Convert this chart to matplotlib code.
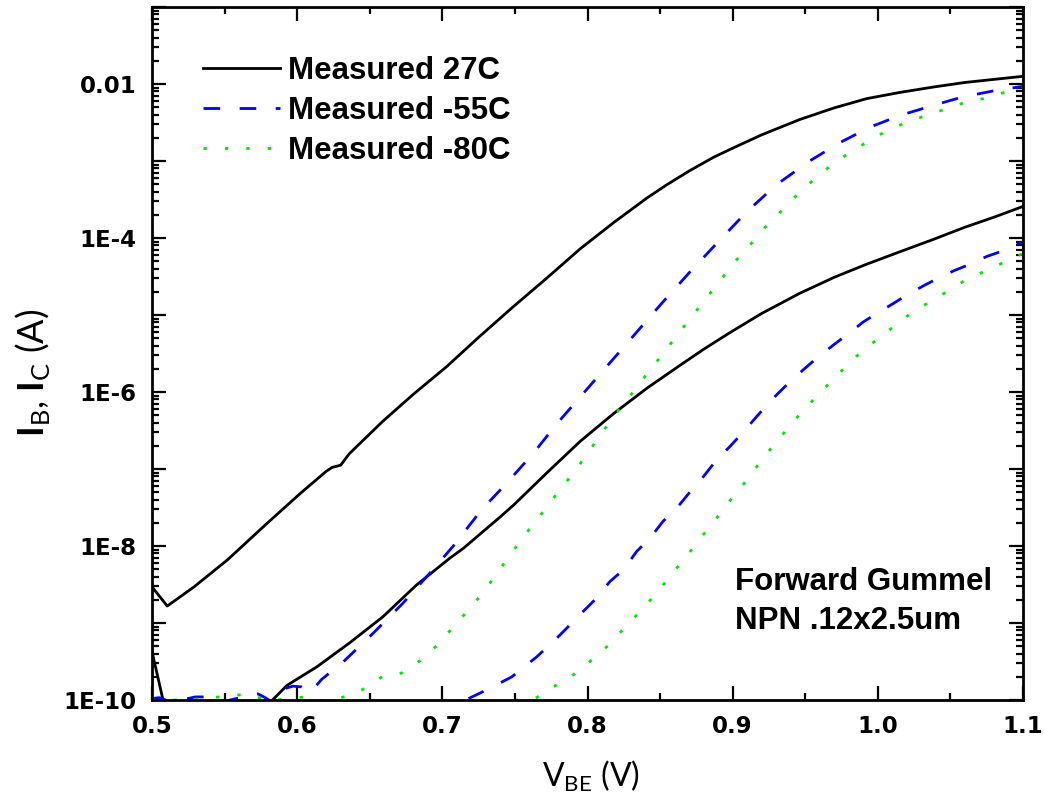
import numpy as np
import matplotlib
matplotlib.use("Agg")
import matplotlib.pyplot as plt
from matplotlib.ticker import FixedLocator, FixedFormatter, LogLocator, NullFormatter, MultipleLocator

plt.rcParams['mathtext.fontset'] = 'custom'
plt.rcParams['mathtext.rm'] = 'Lato'
plt.rcParams['mathtext.bf'] = 'Lato:bold'

# ---------------- data (log10 of current in A) ----------------
# Collector current, 27C
ic27_v = [0.500, 0.5105, 0.529, 0.552, 0.579, 0.602, 0.620, 0.624, 0.630, 0.636, 0.659, 0.680,
          0.703, 0.725, 0.749, 0.772, 0.795, 0.818, 0.841, 0.8545, 0.870, 0.887, 0.9004, 0.920,
          0.9464, 0.970, 0.9923, 1.015, 1.038, 1.060, 1.080, 1.100]
ic27_log = [-8.53, -8.78, -8.53, -8.18, -7.71, -7.32, -7.03, -6.98, -6.95, -6.80, -6.38, -6.03,
            -5.67, -5.29, -4.89, -4.52, -4.14, -3.80, -3.48, -3.31, -3.13, -2.95, -2.83, -2.66,
            -2.46, -2.31, -2.19, -2.11, -2.04, -1.98, -1.94, -1.90]
# Base current, 27C
ib27_v = [0.500, 0.5076, 0.515, 0.545, 0.575, 0.583, 0.593, 0.6135, 0.636, 0.659, 0.682, 0.705,
          0.7145, 0.740, 0.749, 0.772, 0.795, 0.818, 0.841, 0.864, 0.8804, 0.898, 0.920, 0.946,
          0.970, 0.9923, 1.015, 1.038, 1.060, 1.080, 1.100]
ib27_log = [-9.37, -10.0, -10.6, -11.0, -10.4, -10.0, -9.81, -9.57, -9.26, -8.92, -8.51, -8.16,
            -8.03, -7.62, -7.47, -7.05, -6.64, -6.28, -5.95, -5.65, -5.44, -5.23, -4.98, -4.72,
            -4.51, -4.34, -4.18, -4.02, -3.86, -3.73, -3.59]
# Collector current, -55C
ic55_v = [0.500, 0.505, 0.512, 0.520, 0.530, 0.540, 0.548, 0.556, 0.565, 0.573, 0.578, 0.582,
          0.590, 0.597, 0.603, 0.609, 0.617, 0.632, 0.6525, 0.673, 0.6915, 0.708, 0.727, 0.744,
          0.7625, 0.779, 0.797, 0.8155, 0.834, 0.852, 0.8706, 0.889, 0.9097, 0.930, 0.953,
          0.974, 0.9946, 1.015, 1.036, 1.058, 1.0795, 1.100]
ic55_log = [-9.98, -9.97, -10.02, -10.0, -9.96, -9.96, -10.03, -9.99, -9.95, -9.92, -9.97, -10.02,
            -9.86, -9.82, -9.83, -9.90, -9.73, -9.50, -9.13, -8.74, -8.35, -7.99, -7.53, -7.19,
            -6.80, -6.41, -6.02, -5.62, -5.22, -4.83, -4.44, -4.07, -3.66, -3.31, -3.00,
            -2.76, -2.56, -2.41, -2.29, -2.17, -2.09, -2.03]
# Base current, -55C
ib55_v = [0.700, 0.716, 0.726, 0.7386, 0.7478, 0.765, 0.7776, 0.7845, 0.797, 0.805, 0.8155, 0.8247,
          0.8339, 0.843, 0.852, 0.8614, 0.8718, 0.8798, 0.889, 0.898, 0.9073, 0.9165, 0.9269,
          0.936, 0.9487, 0.9579, 0.9694, 0.9785, 0.990, 0.9992, 1.0107, 1.020, 1.0325, 1.0417,
          1.053, 1.0623, 1.075, 1.0841, 1.100]
ib55_log = [-10.3, -10.0, -9.91, -9.79, -9.70, -9.44, -9.22, -9.09, -8.85, -8.70, -8.46, -8.31,
            -8.07, -7.90, -7.68, -7.51, -7.27, -7.10, -6.88, -6.71, -6.52, -6.32, -6.10,
            -5.93, -5.71, -5.56, -5.39, -5.26, -5.09, -4.98, -4.85, -4.74, -4.61, -4.52,
            -4.42, -4.35, -4.24, -4.18, -4.05]
# Collector current, -80C
ic80_v = [0.500, 0.525, 0.5675, 0.580, 0.593, 0.606, 0.620, 0.636, 0.6467, 0.659, 0.672, 0.6846,
          0.697, 0.7076, 0.719, 0.7294, 0.7386, 0.7558, 0.766, 0.776, 0.7857, 0.795, 0.804,
          0.813, 0.8224, 0.8327, 0.8419, 0.8518, 0.8614, 0.871, 0.881, 0.8908, 0.9004, 0.912,
          0.922, 0.9345, 0.9464, 0.9597, 0.9717, 0.9843, 0.9969, 1.0095, 1.022, 1.0348,
          1.0474, 1.060, 1.0727, 1.0853, 1.100]
ic80_log = [-10.0, -10.0, -9.92, -10.02, -9.98, -9.96, -10.02, -9.94, -9.85, -9.69, -9.65, -9.49,
            -9.28, -9.05, -8.81, -8.57, -8.33, -7.88, -7.64, -7.39, -7.16, -6.93, -6.69,
            -6.45, -6.21, -5.97, -5.74, -5.51, -5.27, -5.04, -4.80, -4.57, -4.33, -4.09,
            -3.87, -3.63, -3.40, -3.18, -3.00, -2.85, -2.70, -2.58, -2.48, -2.40,
            -2.32, -2.24, -2.19, -2.12, -2.05]
# Base current, -80C
ib80_v = [0.700, 0.751, 0.764, 0.7765, 0.789, 0.8017, 0.8132, 0.8247, 0.8373, 0.8477, 0.8587,
          0.8688, 0.8786, 0.8885, 0.8977, 0.9078, 0.917, 0.9269, 0.9372, 0.9475, 0.9597, 0.9721,
          0.985, 0.9974, 1.0102, 1.0226, 1.0348, 1.0474, 1.060, 1.0727, 1.0853, 1.100]
ib80_log = [-10.6, -10.0, -9.98, -9.83, -9.69, -9.50, -9.31, -9.08, -8.83, -8.61, -8.35,
            -8.12, -7.88, -7.65, -7.42, -7.19, -6.96, -6.72, -6.49, -6.26, -6.02, -5.78,
            -5.54, -5.35, -5.16, -4.98, -4.84, -4.70, -4.55, -4.44, -4.33, -4.20]

labels = ["Measured 27C", "Measured -55C", "Measured -80C"]
xticks = [0.5, 0.6, 0.7, 0.8, 0.9, 1.0, 1.1]
xtick_labels = ["0.5", "0.6", "0.7", "0.8", "0.9", "1.0", "1.1"]
yticks = [1e-10, 1e-9, 1e-8, 1e-7, 1e-6, 1e-5, 1e-4, 1e-3, 1e-2, 1e-1]
ytick_labels = ["1E-10", "", "1E-8", "", "1E-6", "", "1E-4", "", "0.01", ""]
note_lines = ["Forward Gummel", "NPN .12x2.5um"]

# ---------------- figure ----------------
fig = plt.figure(figsize=(10.44, 7.99), dpi=100)
ax = fig.add_axes([152/1044, 99/799, 871/1044, 693/799])

lw = 2.0
green = '#00E600'
ax.plot(ic27_v, 10**np.array(ic27_log), color='black', lw=lw, label=labels[0])
ax.plot(ib27_v, 10**np.array(ib27_log), color='black', lw=lw)
ax.plot(ic55_v, 10**np.array(ic55_log), color='#0000FF', lw=lw, dashes=(6, 7), label=labels[1])
ax.plot(ib55_v, 10**np.array(ib55_log), color='#0000FF', lw=lw, dashes=(6, 7))
ax.plot(ic80_v, 10**np.array(ic80_log), color=green, lw=lw, dashes=(1.2, 6.5), label=labels[2])
ax.plot(ib80_v, 10**np.array(ib80_log), color=green, lw=lw, dashes=(1.2, 6.5))

ax.set_yscale('log')
ax.set_xlim(0.5, 1.1)
ax.set_ylim(1e-10, 1e-1)

ax.xaxis.set_major_locator(FixedLocator(xticks))
ax.xaxis.set_major_formatter(FixedFormatter(xtick_labels))
ax.xaxis.set_minor_locator(MultipleLocator(0.05))
ax.yaxis.set_major_locator(FixedLocator(yticks))
ax.yaxis.set_major_formatter(FixedFormatter(ytick_labels))
ax.yaxis.set_minor_locator(LogLocator(base=10, subs=np.arange(2, 10), numticks=20))
ax.yaxis.set_minor_formatter(NullFormatter())

ax.tick_params(which='both', direction='in', top=True, right=True, width=1.6)
ax.tick_params(which='major', length=10, pad=11)
ax.tick_params(which='minor', length=5)
for lab in ax.get_xticklabels() + ax.get_yticklabels():
    lab.set_fontfamily('DejaVu Sans')
    lab.set_fontweight('bold')
    lab.set_fontsize(16.5)
for sp in ax.spines.values():
    sp.set_linewidth(2.0)

ax.set_xlabel(r'V$_{\mathrm{BE}}$ (V)', fontsize=23, fontfamily='Lato')
ax.xaxis.set_label_coords(0.504, -0.085)
ax.set_ylabel(r'$\mathbf{I}_{\mathrm{B}}$, $\mathbf{I}_{\mathrm{C}}$ (A)', fontsize=26, fontfamily='Lato')
ax.yaxis.set_label_coords(-0.115, 0.472)

leg = ax.legend(loc='upper left', bbox_to_anchor=(0.0586, 0.929), frameon=False,
                prop={'family': 'Liberation Sans', 'weight': 'bold', 'size': 22.5},
                handlelength=2.46, handletextpad=0.26, labelspacing=0.31,
                borderpad=0, borderaxespad=0)

fig.text(735/1044, (799-590)/799, note_lines[0], fontsize=22.5, fontweight='bold',
         fontfamily='Liberation Sans', va='baseline', ha='left')
fig.text(735/1044, (799-629)/799, note_lines[1], fontsize=22.5, fontweight='bold',
         fontfamily='Liberation Sans', va='baseline', ha='left')

fig.savefig('out.png', dpi=100)
